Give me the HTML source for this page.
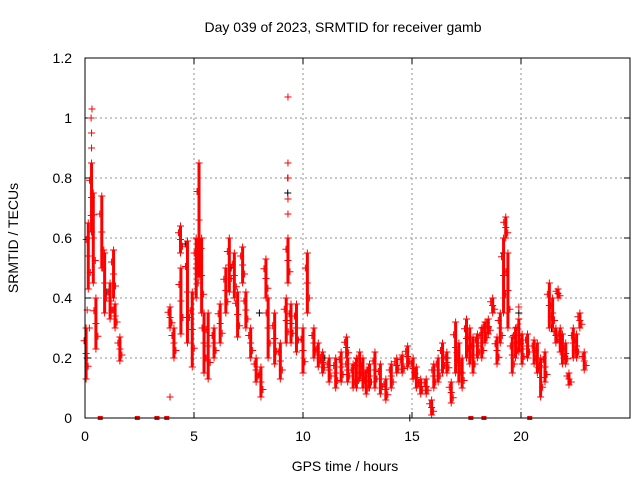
<!DOCTYPE html>
<html><head><meta charset="utf-8"><style>
body{margin:0;background:#fff;font-family:"Liberation Sans",sans-serif}
svg text{font-family:"Liberation Sans",sans-serif;font-size:14px;fill:#000}
</style></head><body>
<svg id="c" width="640" height="480">
<text x="343" y="32" text-anchor="middle">Day 039 of 2023, SRMTID for receiver gamb</text>
<text x="345" y="471" text-anchor="middle">GPS time / hours</text>
<text transform="translate(18,238) rotate(-90)" text-anchor="middle">SRMTID / TECUs</text>
<g id="grid"></g><g id="ticks"></g><g id="blk"></g><g id="red"></g>
<rect x="85" y="58" width="545" height="360" fill="none" stroke="#000" stroke-width="1"/>
</svg>
<script>
const xTicks=[0,5,10,15,20];
const yTicks=[0,0.2,0.4,0.6,0.8,1,1.2];
const yTickLabels=["0","0.2","0.4","0.6","0.8","1","1.2"];
const redTimes=[0.05,0.15,0.3,0.38,0.5,0.77,0.9,1.15,1.31,1.38,1.6,3.9,4.08,4.38,4.4,4.7,4.92,5.1,5.23,5.35,5.46,5.65,5.92,6.2,6.46,6.62,6.85,7.0,7.23,7.38,7.6,7.85,8.07,8.3,8.4,8.7,8.96,9.23,9.31,9.45,9.7,10.0,
10.2,10.5,10.9,11.5,12.0,12.05,12.3,12.6,12.9,13.3,13.8,14.3,14.8,15.05,15.4,15.9,16.0,16.4,16.8,17.0,17.3,17.5,17.8,18.2,18.5,18.7,18.9,19.2,19.3,19.4,19.6,19.9,20.05,20.6,20.9,21.3,21.6,21.7,21.9,22.2,22.4,22.7,22.9,
10.7,11.2,11.75,12.45,12.75,13.05,13.55,14.05,14.55,15.2,15.65,16.2,16.6,17.15,17.65,18.0,18.35,19.05,19.75,20.3,20.75,21.1,21.45,21.8,22.05,22.55];
const redLow=[0.13,0.43,0.62,0.45,0.23,0.5,0.35,0.33,0.4,0.3,0.19,0.3,0.2,0.55,0.28,0.25,0.17,0.4,0.47,0.35,0.15,0.13,0.2,0.25,0.35,0.42,0.4,0.27,0.45,0.3,0.2,0.12,0.07,0.4,0.2,0.18,0.13,0.25,0.45,0.25,0.22,0.15,
0.35,0.2,0.15,0.1,0.2,0.12,0.1,0.13,0.08,0.1,0.06,0.15,0.17,0.13,0.08,0.01,0.1,0.15,0.05,0.15,0.1,0.2,0.15,0.2,0.28,0.35,0.18,0.35,0.6,0.3,0.15,0.22,0.18,0.18,0.07,0.3,0.25,0.4,0.18,0.11,0.2,0.3,0.16,
0.17,0.12,0.12,0.1,0.1,0.1,0.08,0.1,0.15,0.1,0.08,0.12,0.15,0.12,0.18,0.2,0.25,0.25,0.2,0.2,0.15,0.12,0.3,0.22,0.18,0.2];
const redHigh=[0.3,0.65,0.85,0.75,0.4,0.74,0.55,0.45,0.56,0.38,0.27,0.37,0.3,0.64,0.5,0.59,0.42,0.6,0.85,0.6,0.35,0.35,0.3,0.38,0.5,0.6,0.55,0.42,0.57,0.42,0.3,0.2,0.17,0.53,0.4,0.35,0.25,0.4,0.6,0.38,0.38,0.3,
0.55,0.3,0.22,0.2,0.27,0.2,0.18,0.22,0.16,0.22,0.13,0.2,0.24,0.2,0.13,0.06,0.18,0.25,0.12,0.32,0.2,0.33,0.27,0.3,0.33,0.4,0.27,0.6,0.67,0.55,0.27,0.33,0.28,0.26,0.2,0.45,0.3,0.43,0.28,0.15,0.3,0.35,0.22,
0.25,0.2,0.22,0.2,0.2,0.18,0.18,0.18,0.21,0.17,0.13,0.2,0.22,0.25,0.3,0.28,0.32,0.35,0.3,0.28,0.25,0.22,0.4,0.3,0.25,0.28];
const extraTimes=[3.9,9.31,9.31,9.31,9.31,9.31,0.1,0.2,19.9,0.3,0.3,0.28,0.32];
const extraValues=[0.07,0.85,0.8,0.73,0.68,1.07,0.36,0.3,0.37,0.9,0.95,1.0,1.03];
const zeroTimes=[0.7,2.4,3.3,3.75,17.7,18.3,20.4];
const blackTimes=[0.1,1.0,3.9,4.6,5.2,6.7,8.0,9.3,9.3,11.0,14.9,16.6,18.5,19.2,19.9,21.4,22.3];
const blackValues=[0.2,0.42,0.07,0.58,0.6,0.5,0.35,0.8,0.75,0.2,0,0.2,0.3,0.55,0.35,0.3,0.12];
const X0=85,X1=630,Y0=418,Y1=58;
const xs=t=>X0+t/25*(X1-X0), ys=v=>Y0-v/1.2*(Y0-Y1);
const NS="http://www.w3.org/2000/svg";
function mk(tag,attrs,parent){const e=document.createElementNS(NS,tag);for(const k in attrs)e.setAttribute(k,attrs[k]);parent.appendChild(e);return e;}
const grid=document.getElementById('grid'),ticks=document.getElementById('ticks');
xTicks.forEach(t=>{const x=xs(t);
 if(t>0){const g=mk('line',{x1:x,x2:x,y1:Y1,y2:Y0,stroke:'#909090','stroke-dasharray':'2,3'},grid);
 
 }
 const l=mk('text',{x:x,y:Y0+23,'text-anchor':'middle'},ticks);l.textContent=t;
 
 
 mk('line',{x1:x,x2:x,y1:Y0,y2:Y0-6,stroke:'#000'},ticks);mk('line',{x1:x,x2:x,y1:Y1,y2:Y1+6,stroke:'#000'},ticks);});
yTicks.forEach((v,i)=>{const y=ys(v);
 if(v>0&&v<1.2){const g=mk('line',{x1:X0,x2:X1,y1:y,y2:y,stroke:'#909090','stroke-dasharray':'2,3'},grid);
 
 }
 const l=mk('text',{x:X0-13,y:y+5,'text-anchor':'end'},ticks);l.textContent=yTickLabels[i];
 
 
 mk('line',{x1:X0,x2:X0+6,y1:y,y2:y,stroke:'#000'},ticks);mk('line',{x1:X1,x2:X1-6,y1:y,y2:y,stroke:'#000'},ticks);});
function cross(g,x,y,col,name){
 const p=mk('path',{d:`M${x-3.5},${y}h7M${x},${y-3.5}v7`,stroke:col,'stroke-width':1},g);
 
 }
const blk=document.getElementById('blk'),red=document.getElementById('red');
blackTimes.forEach((t,i)=>cross(blk,xs(t),ys(blackValues[i]),'#000','black-point'));
redTimes.forEach((t,i)=>{const x=xs(t),yl=ys(redLow[i]),yh=ys(redHigh[i]);
 const r=mk('rect',{x:x-1.5,y:yh,width:3,height:Math.max(1,yl-yh),fill:'#f00'},red);
 
 
 cross(red,x,yl,'#f00','red-point');cross(red,x,yh,'#f00','red-point');cross(red,x,(yl+yh)/2,'#f00','red-point');
 cross(red,x+2,(yl*3+yh)/4,'#f00','red-point');cross(red,x-2,(yl+yh*3)/4,'#f00','red-point');});
extraTimes.forEach((t,i)=>cross(red,xs(t),ys(extraValues[i]),'#f00','red-point'));
zeroTimes.forEach(t=>{const r=mk('rect',{x:xs(t)-2.5,y:Y0-2,width:5,height:4,fill:'#f00'},red);
 
 });
</script>
</body></html>
